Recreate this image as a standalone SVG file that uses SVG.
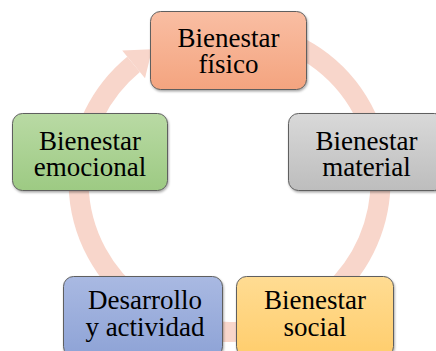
<svg xmlns="http://www.w3.org/2000/svg" width="436" height="351" viewBox="0 0 436 351">
  <defs>
    <linearGradient id="gOrange" x1="0" y1="0" x2="0" y2="1">
      <stop offset="0" stop-color="#f9bea3"/>
      <stop offset="1" stop-color="#f4a47f"/>
    </linearGradient>
    <linearGradient id="gGreen" x1="0" y1="0" x2="0" y2="1">
      <stop offset="0" stop-color="#b9daa4"/>
      <stop offset="1" stop-color="#9dca83"/>
    </linearGradient>
    <linearGradient id="gGray" x1="0" y1="0" x2="0" y2="1">
      <stop offset="0" stop-color="#d9d9d9"/>
      <stop offset="1" stop-color="#bdbdbd"/>
    </linearGradient>
    <linearGradient id="gBlue" x1="0" y1="0" x2="0" y2="1">
      <stop offset="0" stop-color="#a9b9e2"/>
      <stop offset="1" stop-color="#8ea3d6"/>
    </linearGradient>
    <linearGradient id="gYellow" x1="0" y1="0" x2="0" y2="1">
      <stop offset="0" stop-color="#ffdc93"/>
      <stop offset="1" stop-color="#ffcd6c"/>
    </linearGradient>
    <filter id="shadow" x="-10%" y="-10%" width="130%" height="130%">
      <feDropShadow dx="0.8" dy="1.5" stdDeviation="1" flood-color="#000" flood-opacity="0.35"/>
    </filter>
  </defs>
  <style>
    .box { stroke: #5f5f5f; stroke-width: 1; filter: url(#shadow); }
    .lbl { font-family: "Liberation Serif", "Times New Roman", serif; font-size: 27px; fill: #000; text-anchor: middle; }
    .ring { fill: none; stroke: #f8d6cb; stroke-width: 20; }
    .head { fill: #f8d6cb; }
  </style>

  <g id="connectors">
    <path class="ring" d="M 255.7 32.3 A 151 151 0 1 1 133.6 64.4"/>
    <polygon class="head" points="122.2,50.5 152.1,49.2 145.0,78.3"/>
  </g>

  <g id="node-fisico">
    <rect class="box" x="150.5" y="11.5" width="156" height="78" rx="10" fill="url(#gOrange)"/>
    <text class="lbl" x="228.5" y="46.5">Bienestar</text>
    <text class="lbl" x="228.5" y="72.5">físico</text>
  </g>

  <g id="node-emocional">
    <rect class="box" x="12.5" y="113.5" width="155" height="77" rx="10" fill="url(#gGreen)"/>
    <text class="lbl" x="90" y="149.5">Bienestar</text>
    <text class="lbl" x="90" y="175.5">emocional</text>
  </g>

  <g id="node-material">
    <rect class="box" x="288.5" y="113.5" width="156" height="77" rx="10" fill="url(#gGray)"/>
    <text class="lbl" x="366.5" y="149.5">Bienestar</text>
    <text class="lbl" x="366.5" y="175.5">material</text>
  </g>

  <g id="node-desarrollo">
    <rect class="box" x="63.5" y="276.5" width="159" height="80" rx="10" fill="url(#gBlue)"/>
    <text class="lbl" x="145" y="308.5">Desarrollo</text>
    <text class="lbl" x="145" y="335.5">y actividad</text>
  </g>

  <g id="node-social">
    <rect class="box" x="236.5" y="276.5" width="157" height="80" rx="10" fill="url(#gYellow)"/>
    <text class="lbl" x="315" y="309">Bienestar</text>
    <text class="lbl" x="315" y="336">social</text>
  </g>
</svg>
